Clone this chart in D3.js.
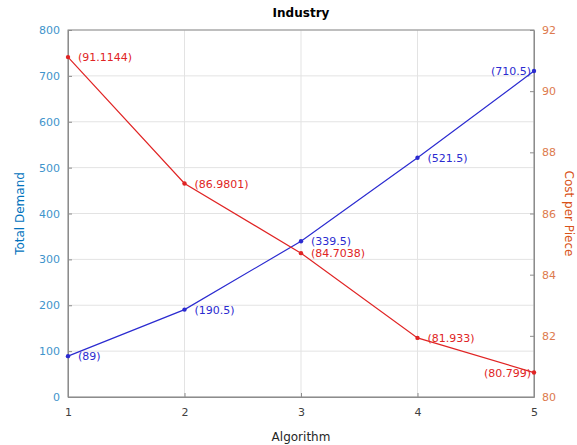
<!DOCTYPE html>
<html>
<head>
<meta charset="utf-8">
<script src="https://cdn.jsdelivr.net/npm/d3@7"></script>
<style>
body{margin:0;background:#fff;}
text{font-family:"DejaVu Sans",sans-serif;}
</style>
</head>
<body>
<div id="chart"></div>
<script>
var algorithms=[1,2,3,4,5];
var demand=[89,190.5,339.5,521.5,710.5];
var cost=[91.1144,86.9801,84.7038,81.933,80.799];
var demandLabels=["(89)","(190.5)","(339.5)","(521.5)","(710.5)"];
var costLabels=["(91.1144)","(86.9801)","(84.7038)","(81.933)","(80.799)"];
var leftTicks=[0,100,200,300,400,500,600,700,800];
var rightTicks=[80,82,84,86,88,90,92];

var width=577,height=445;
var margin={top:30,right:43,bottom:48,left:68};

var svg=d3.select("#chart").append("svg").attr("width",width).attr("height",height);

var x=d3.scaleLinear().domain([1,5]).range([margin.left,width-margin.right]);
var yL=d3.scaleLinear().domain([0,800]).range([height-margin.bottom,margin.top]);
var yR=d3.scaleLinear().domain([80,92]).range([height-margin.bottom,margin.top]);

var blueAxis="#0072BD",orangeAxis="#D95319";
var blueLine="#2b2bd0",redLine="#e02424";

// grid
var grid=svg.append("g");
grid.selectAll(".gx").data(algorithms).enter().append("line")
	.attr("x1",function(d){return x(d);}).attr("x2",function(d){return x(d);})
	.attr("y1",margin.top).attr("y2",height-margin.bottom)
	.attr("stroke","#e3e3e3").attr("stroke-width",1);
grid.selectAll(".gy").data(leftTicks).enter().append("line")
	.attr("x1",margin.left).attr("x2",width-margin.right)
	.attr("y1",function(d){return yL(d);}).attr("y2",function(d){return yL(d);})
	.attr("stroke","#e3e3e3").attr("stroke-width",1);

// box
svg.append("rect").attr("x",margin.left).attr("y",margin.top)
	.attr("width",width-margin.left-margin.right).attr("height",height-margin.top-margin.bottom)
	.attr("fill","none").attr("stroke","#8c8c8c").attr("stroke-width",1);

// axes
var xAxis=svg.append("g").attr("transform","translate(0,"+(height-margin.bottom)+")")
	.call(d3.axisBottom(x).tickValues(algorithms).tickFormat(d3.format("d")).tickSizeInner(-4).tickSizeOuter(0).tickPadding(11));
xAxis.select(".domain").attr("stroke","#8c8c8c");
xAxis.selectAll("line").attr("stroke","#8c8c8c");
xAxis.selectAll("text").attr("fill","#404040").attr("font-size",11);

var lAxis=svg.append("g").attr("transform","translate("+margin.left+",0)")
	.call(d3.axisLeft(yL).tickValues(leftTicks).tickSizeInner(-4).tickSizeOuter(0).tickPadding(8));
lAxis.select(".domain").attr("stroke","#8c8c8c");
lAxis.selectAll("line").attr("stroke","#8c8c8c");
lAxis.selectAll("text").attr("fill","#3f94cc").attr("font-size",11);

var rAxis=svg.append("g").attr("transform","translate("+(width-margin.right)+",0)")
	.call(d3.axisRight(yR).tickValues(rightTicks).tickSizeInner(-4).tickSizeOuter(0).tickPadding(8));
rAxis.select(".domain").attr("stroke","#8c8c8c");
rAxis.selectAll("line").attr("stroke","#8c8c8c");
rAxis.selectAll("text").attr("fill","#dd7a4e").attr("font-size",11);

// titles
svg.append("text").attr("x",(margin.left+width-margin.right)/2).attr("y",17)
	.attr("text-anchor","middle").attr("font-size",12).attr("font-weight","bold").attr("fill","#000")
	.text("Industry");
svg.append("text").attr("x",(margin.left+width-margin.right)/2).attr("y",height-4)
	.attr("text-anchor","middle").attr("font-size",12).attr("fill","#262626").text("Algorithm");
svg.append("text").attr("transform","translate(24,"+((margin.top+height-margin.bottom)/2)+") rotate(-90)")
	.attr("text-anchor","middle").attr("font-size",12).attr("fill",blueAxis).text("Total Demand");
svg.append("text").attr("transform","translate("+(width-12)+","+((margin.top+height-margin.bottom)/2)+") rotate(90)")
	.attr("text-anchor","middle").attr("font-size",12).attr("fill",orangeAxis).text("Cost per Piece");

// demand line
var lineL=d3.line().x(function(d,i){return x(algorithms[i]);}).y(function(d){return yL(d);});
svg.append("path").datum(demand).attr("d",lineL).attr("fill","none").attr("stroke",blueLine).attr("stroke-width",1.2);
svg.selectAll(".dl").data(demand).enter().append("circle")
	.attr("cx",function(d,i){return x(algorithms[i]);}).attr("cy",function(d){return yL(d);})
	.attr("r",2.2).attr("fill",blueLine);
svg.selectAll(".dt").data(demand).enter().append("text")
	.attr("x",function(d,i){return i==4?x(algorithms[i])-3:x(algorithms[i])+10;})
	.attr("y",function(d){return yL(d)+4;})
	.attr("text-anchor",function(d,i){return i==4?"end":"start";})
	.attr("font-size",11).attr("fill",blueLine)
	.text(function(d,i){return demandLabels[i];});

// cost line
var lineR=d3.line().x(function(d,i){return x(algorithms[i]);}).y(function(d){return yR(d);});
svg.append("path").datum(cost).attr("d",lineR).attr("fill","none").attr("stroke",redLine).attr("stroke-width",1.2);
svg.selectAll(".cl").data(cost).enter().append("circle")
	.attr("cx",function(d,i){return x(algorithms[i]);}).attr("cy",function(d){return yR(d);})
	.attr("r",2.2).attr("fill",redLine);
svg.selectAll(".ct").data(cost).enter().append("text")
	.attr("x",function(d,i){return i==4?x(algorithms[i])-3:x(algorithms[i])+10;})
	.attr("y",function(d){return yR(d)+4;})
	.attr("text-anchor",function(d,i){return i==4?"end":"start";})
	.attr("font-size",11).attr("fill",redLine)
	.text(function(d,i){return costLabels[i];});
</script>
</body>
</html>
